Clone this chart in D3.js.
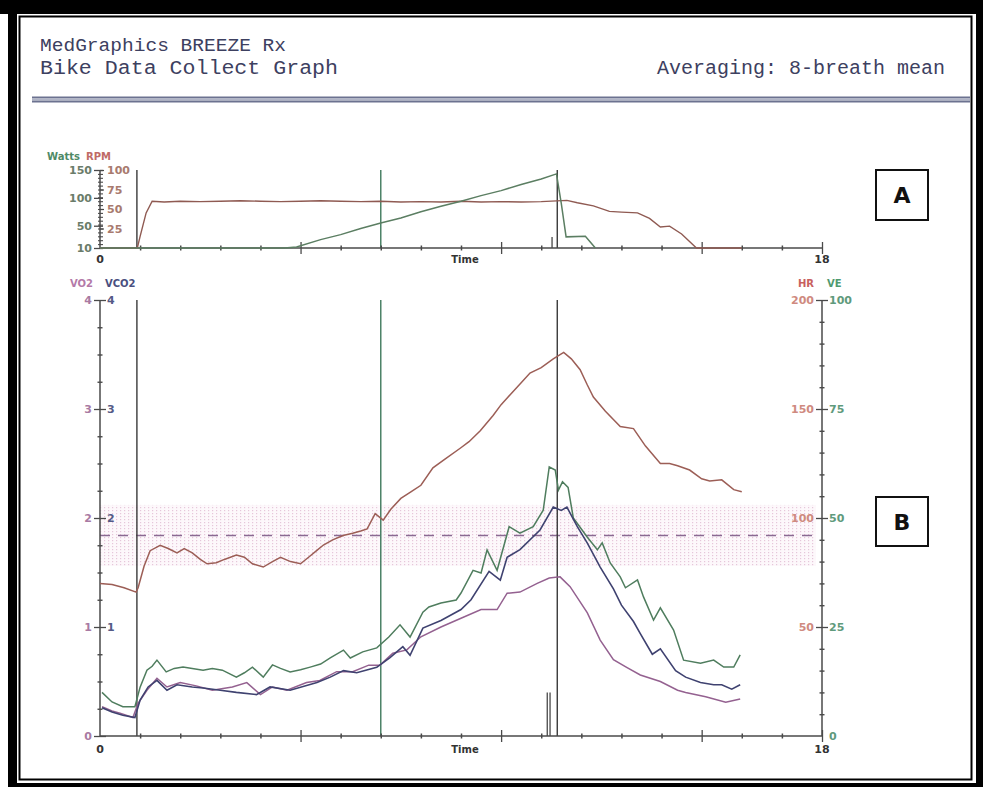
<!DOCTYPE html>
<html><head><meta charset="utf-8">
<script src="https://cdn.jsdelivr.net/npm/d3@7"></script>
<style>body{margin:0;background:#fff}svg{display:block}</style>
</head><body>
<svg id="c" width="983" height="787"></svg>
<script>
// ---------------- DATA ----------------
const titleLines = ["MedGraphics BREEZE Rx", "Bike Data Collect Graph"];
const averagingText = "Averaging: 8-breath mean";

// Panel A
const wattsTicks = [10, 50, 100, 150];
const rpmTicks = [25, 50, 75, 100];
const wattsData = [[0,10],[0.95,10],[4.6,10],[4.9,12],[5.5,25],[6.0,34],[6.5,45],[7.0,55],[7.5,64],[8.0,75],[8.5,85],[9.0,94],[9.5,104],[10.0,113],[10.5,124],[11.0,134],[11.38,143],[11.5,90],[11.62,30],[12.1,31],[12.35,10]];
const rpmData = [[0,0],[0.93,0],[1.0,15],[1.15,45],[1.3,60],[1.6,59],[2.0,60],[2.5,59.5],[3.0,60],[3.5,60.5],[4.0,60],[4.5,59.5],[5.0,60],[5.5,60.5],[6.0,60],[6.5,59.5],[7.0,60],[7.5,59],[8.0,59.5],[8.5,59],[9.0,60],[9.5,59],[10.0,59.5],[10.5,59],[11.0,59.5],[11.64,61],[11.9,58],[12.3,54],[12.7,47],[13.0,46],[13.4,45],[13.7,38],[13.97,27],[14.2,28],[14.5,18],[14.87,0],[16.0,0]];

// Panel B
const vo2Ticks = [0, 1, 2, 3, 4];
const vco2Ticks = [1, 2, 3, 4];
const hrTicks = [50, 100, 150, 200];
const veTicks = [0, 25, 50, 75, 100];
const targetHR = [78, 92, 106]; // low, mid (dashed), high
const blackEvents = [0.92, 11.4];
const greenEvents = [7.0];
const shortMarkers = [11.15, 11.22];

const hrData = [[0,70],[0.3,69.5],[0.6,68],[0.9,66],[0.95,68],[1.1,78],[1.25,85],[1.5,87.5],[1.7,86],[1.92,84],[2.1,86],[2.3,84],[2.5,81],[2.67,79],[2.9,79.5],[3.1,81],[3.4,83],[3.6,82],[3.8,79],[4.07,77.5],[4.3,80],[4.5,82],[4.75,80],[5.0,79],[5.2,82],[5.4,85],[5.57,87.6],[5.8,90],[6.06,92],[6.3,93],[6.5,94],[6.66,95],[6.86,102],[7.06,99],[7.25,104],[7.5,109],[7.75,112],[8.0,115],[8.3,123],[8.6,127],[8.98,132],[9.2,135],[9.48,140],[9.8,147],[10.0,152],[10.3,158],[10.5,162],[10.72,166.5],[11.0,169],[11.3,173],[11.56,176],[11.75,173],[11.97,168],[12.15,161],[12.3,155.5],[12.6,149],[12.97,142],[13.3,141],[13.6,133],[13.97,125],[14.2,125],[14.4,124],[14.7,122],[15.0,118],[15.2,117],[15.5,117.5],[15.8,113],[16.0,112]];

const veData = [[0.05,10],[0.3,7.8],[0.57,6.7],[0.87,6.7],[1.0,11.2],[1.17,15.1],[1.3,16],[1.42,17.4],[1.65,14.7],[1.85,15.5],[2.07,15.8],[2.3,15.5],[2.57,15.1],[2.8,15.5],[3.05,15.1],[3.4,13.5],[3.6,14.5],[3.8,15.8],[4.07,13.5],[4.3,16.3],[4.5,15.5],[4.74,14.7],[5.0,15.2],[5.24,15.8],[5.5,16.5],[5.74,17.9],[6.07,19.7],[6.24,17.9],[6.55,19.3],[6.9,20.2],[7.2,22.7],[7.48,25.5],[7.73,22.7],[8.05,28.4],[8.2,29.6],[8.5,30.5],[8.88,31.2],[9.0,32.8],[9.3,38],[9.5,37.4],[9.65,42.7],[9.9,38],[10.2,48],[10.47,46.5],[10.8,48],[11.05,51.8],[11.2,61.7],[11.35,61],[11.43,56.4],[11.53,58.3],[11.67,57],[11.8,50],[12.15,45.6],[12.4,42.7],[12.52,44.3],[12.72,39.7],[12.97,36.5],[13.1,34],[13.4,35.8],[13.55,31.9],[13.8,26.6],[13.97,29.4],[14.3,24.3],[14.55,17.4],[14.97,16.7],[15.3,17.4],[15.55,15.8],[15.8,15.8],[15.96,18.6]];

const vco2Data = [[0.05,0.26],[0.3,0.22],[0.57,0.19],[0.87,0.17],[1.0,0.33],[1.2,0.45],[1.42,0.51],[1.67,0.42],[1.92,0.47],[2.3,0.45],[2.57,0.44],[3.0,0.42],[3.4,0.40],[3.9,0.38],[4.24,0.45],[4.74,0.42],[5.41,0.49],[5.74,0.54],[6.07,0.6],[6.4,0.58],[6.9,0.63],[7.23,0.72],[7.55,0.82],[7.73,0.74],[8.05,0.99],[8.5,1.06],[9.0,1.16],[9.25,1.25],[9.7,1.51],[9.98,1.43],[10.15,1.64],[10.47,1.71],[10.97,1.89],[11.3,2.1],[11.5,2.07],[11.64,2.1],[11.9,1.92],[12.15,1.77],[12.47,1.55],[12.8,1.35],[13.0,1.2],[13.3,1.05],[13.47,0.94],[13.77,0.75],[13.97,0.8],[14.35,0.6],[14.6,0.54],[14.97,0.49],[15.3,0.47],[15.5,0.47],[15.75,0.43],[15.96,0.47]];

const vo2Data = [[0.05,0.27],[0.3,0.23],[0.5,0.21],[0.82,0.17],[0.95,0.3],[1.17,0.42],[1.42,0.53],[1.67,0.45],[2.0,0.49],[2.4,0.46],[2.8,0.42],[3.3,0.45],[3.66,0.49],[4.0,0.38],[4.3,0.45],[4.66,0.42],[5.15,0.49],[5.48,0.51],[5.9,0.59],[6.3,0.59],[6.7,0.65],[6.98,0.65],[7.3,0.76],[7.65,0.79],[8.0,0.91],[8.5,1.0],[9.0,1.08],[9.5,1.16],[9.9,1.16],[10.15,1.31],[10.47,1.32],[10.9,1.4],[11.2,1.45],[11.47,1.46],[11.72,1.37],[12.15,1.13],[12.47,0.88],[12.8,0.7],[13.13,0.63],[13.47,0.56],[13.97,0.5],[14.4,0.42],[14.6,0.4],[15.1,0.36],[15.6,0.31],[15.96,0.34]];

// ---------------- DRAW ----------------
const svg = d3.select("#c");
const C = {
  axis: "#4a4a4a", hr: "#9c5e56", ve: "#4f7d5e", vco2: "#3f4270", vo2: "#946190",
  watts: "#5b7e62", rpm: "#8f5a52", title: "#3d4060", green: "#3f7a5c"
};
const lblFont = "'DejaVu Sans', sans-serif";

// pattern for target band
const defs = svg.append("defs");
const pat = defs.append("pattern").attr("id","dots").attr("width",4).attr("height",3).attr("patternUnits","userSpaceOnUse");
pat.append("rect").attr("width",4).attr("height",3).attr("fill","#fdf8fb");
pat.append("rect").attr("width",1.2).attr("height",1.2).attr("fill","#e6c6da");

svg.append("rect").attr("width",983).attr("height",787).attr("fill","#fff");

// frame
svg.append("rect").attr("x",0).attr("y",0).attr("width",983).attr("height",14).attr("fill","#000");
svg.append("rect").attr("x",8).attr("y",0).attr("width",9).attr("height",787).attr("fill","#000");
svg.append("rect").attr("x",976).attr("y",0).attr("width",7).attr("height",787).attr("fill","#000");
svg.append("rect").attr("x",8).attr("y",783).attr("width",975).attr("height",4).attr("fill","#000");
svg.append("rect").attr("x",19.5).attr("y",16.5).attr("width",952).attr("height",763).attr("fill","none").attr("stroke","#000").attr("stroke-width",2);

// header
svg.append("text").attr("x",40).attr("y",51).attr("font-family","'Liberation Mono', monospace").attr("font-size",19).attr("fill",C.title).attr("textLength",246).attr("lengthAdjust","spacingAndGlyphs").text(titleLines[0]);
svg.append("text").attr("x",40).attr("y",74).attr("font-family","'Liberation Mono', monospace").attr("font-size",20).attr("fill",C.title).attr("textLength",298).attr("lengthAdjust","spacingAndGlyphs").text(titleLines[1]);
svg.append("text").attr("x",945).attr("y",74).attr("text-anchor","end").attr("font-family","'Liberation Mono', monospace").attr("font-size",20).attr("fill",C.title).text(averagingText);
svg.append("line").attr("x1",32).attr("x2",970).attr("y1",97.5).attr("y2",97.5).attr("stroke","#6c7290").attr("stroke-width",2);
svg.append("line").attr("x1",32).attr("x2",970).attr("y1",99.5).attr("y2",99.5).attr("stroke","#b0b4c6").attr("stroke-width",1.5);
svg.append("line").attr("x1",32).attr("x2",970).attr("y1",101.5).attr("y2",101.5).attr("stroke","#6c7290").attr("stroke-width",2);

// ---------- scales ----------
const xTop = d3.scaleLinear([0,18],[100,822]);
const yWatts = d3.scaleLinear([10,150],[248,170]);
const yRpm = d3.scaleLinear([0,100],[248,170]);
const xBot = d3.scaleLinear([0,18],[100,822]);
const yVO2 = d3.scaleLinear([0,4],[736,300]);
const yHR = d3.scaleLinear([0,200],[736,300]);
const yVE = d3.scaleLinear([0,100],[736,300]);

// x axis helper
function xAxis(x, yPos, labelY) {
  const minor = d3.range(1,18).filter(v => v % 5 !== 0);
  const gMin = svg.append("g").attr("transform",`translate(0,${yPos})`)
    .call(d3.axisBottom(x).tickValues(minor).tickSize(0).tickFormat(""));
  gMin.select(".domain").remove();
  gMin.selectAll(".tick line").attr("y1",-2.5).attr("y2",2.5).attr("stroke",C.axis).attr("stroke-width",1.5);
  const gMaj = svg.append("g").attr("transform",`translate(0,${yPos})`)
    .call(d3.axisBottom(x).tickValues([5,10,15,18]).tickSize(0).tickFormat(""));
  gMaj.select(".domain").remove();
  gMaj.selectAll(".tick line").attr("y1",-6).attr("y2",6).attr("stroke",C.axis).attr("stroke-width",1.3);
  svg.append("line").attr("x1",x(0)).attr("x2",x(18)).attr("y1",yPos).attr("y2",yPos).attr("stroke",C.axis).attr("stroke-width",1.5);
  const t = svg.append("g").attr("font-family",lblFont).attr("font-weight","bold").attr("font-size",11).attr("fill","#333");
  t.append("text").attr("x",x(0)).attr("y",labelY).attr("text-anchor","middle").text("0");
  t.append("text").attr("x",x(18)).attr("y",labelY).attr("text-anchor","middle").text("18");
  t.append("text").attr("x",x(9.1)).attr("y",labelY).attr("text-anchor","middle").attr("font-size",10).text("Time");
}

// ---------- PANEL A ----------
svg.append("g").selectAll("line").data(blackEvents).join("line")
  .attr("x1",d=>xTop(d)).attr("x2",d=>xTop(d)).attr("y1",yWatts(150)).attr("y2",yWatts(10))
  .attr("stroke","#3a3a3a").attr("stroke-width",1.4);
svg.append("g").selectAll("line").data(greenEvents).join("line")
  .attr("x1",d=>xTop(d)).attr("x2",d=>xTop(d)).attr("y1",yWatts(150)).attr("y2",yWatts(10))
  .attr("stroke",C.green).attr("stroke-width",1.4);
svg.append("line").attr("x1",xTop(shortMarkers[1]+0.05)).attr("x2",xTop(shortMarkers[1]+0.05)).attr("y1",yRpm(14)).attr("y2",yRpm(0)).attr("stroke","#3a3a3a").attr("stroke-width",1.2);

xAxis(xTop, 248, 263);

svg.append("line").attr("x1",100).attr("x2",100).attr("y1",yWatts(150)).attr("y2",yWatts(10)).attr("stroke",C.axis).attr("stroke-width",1.5);
{
  const g = svg.append("g").attr("transform","translate(100,0)")
    .call(d3.axisRight(yRpm).tickValues(d3.range(5,100,5)).tickSize(3).tickFormat(""));
  g.select(".domain").remove();
  g.selectAll(".tick line").attr("x1",-2).attr("stroke",C.axis).attr("stroke-width",1.1);
  const g2 = svg.append("g").attr("transform","translate(100,0)")
    .call(d3.axisLeft(yWatts).tickValues(wattsTicks).tickSize(6).tickPadding(2));
  g2.select(".domain").remove();
  g2.selectAll(".tick line").attr("x2",-6).attr("x1",3).attr("stroke",C.axis).attr("stroke-width",1.3);
  g2.selectAll("text").attr("font-family",lblFont).attr("font-weight","bold").attr("font-size",11).attr("fill","#6a7c6a");
  const g3 = svg.append("g").attr("transform","translate(100,0)")
    .call(d3.axisRight(yRpm).tickValues(rpmTicks).tickSize(4).tickPadding(3));
  g3.select(".domain").remove();
  g3.selectAll(".tick line").attr("stroke",C.axis).attr("stroke-width",1.2);
  g3.selectAll("text").attr("font-family",lblFont).attr("font-weight","bold").attr("font-size",11).attr("fill","#a87a6e");
  svg.append("text").attr("x",47).attr("y",160).attr("font-family",lblFont).attr("font-weight","bold").attr("font-size",10).attr("fill","#4f8a66").text("Watts");
  svg.append("text").attr("x",86).attr("y",160).attr("font-family",lblFont).attr("font-weight","bold").attr("font-size",10).attr("fill","#c06a66").text("RPM");
}

svg.append("path").datum(rpmData).attr("fill","none").attr("stroke",C.rpm).attr("stroke-width",1.4)
  .attr("d", d3.line().x(d=>xTop(d[0])).y(d=>yRpm(d[1])));
svg.append("path").datum(wattsData).attr("fill","none").attr("stroke",C.watts).attr("stroke-width",1.5)
  .attr("d", d3.line().x(d=>xTop(d[0])).y(d=>yWatts(d[1])));

// ---------- PANEL B ----------
svg.append("rect").attr("x",xBot(0)).attr("width",xBot(17.85)-xBot(0))
  .attr("y",yHR(targetHR[2])).attr("height",yHR(targetHR[0])-yHR(targetHR[2])).attr("fill","url(#dots)");
svg.append("line").attr("x1",xBot(0)).attr("x2",xBot(17.85)).attr("y1",yHR(targetHR[1])).attr("y2",yHR(targetHR[1]))
  .attr("stroke","#8a6a92").attr("stroke-width",1.4).attr("stroke-dasharray","10,8");

svg.append("g").selectAll("line").data(blackEvents).join("line")
  .attr("x1",d=>xBot(d)).attr("x2",d=>xBot(d)).attr("y1",yVO2(4)).attr("y2",yVO2(0))
  .attr("stroke","#3a3a3a").attr("stroke-width",1.4);
svg.append("g").selectAll("line").data(greenEvents).join("line")
  .attr("x1",d=>xBot(d)).attr("x2",d=>xBot(d)).attr("y1",yVO2(4)).attr("y2",yVO2(0))
  .attr("stroke",C.green).attr("stroke-width",1.4);
svg.append("g").selectAll("line").data(shortMarkers).join("line")
  .attr("x1",d=>xBot(d)).attr("x2",d=>xBot(d)).attr("y1",yVO2(0.4)).attr("y2",yVO2(0))
  .attr("stroke","#3a3a3a").attr("stroke-width",1.2);

xAxis(xBot, 736, 753);

svg.append("line").attr("x1",100).attr("x2",100).attr("y1",yVO2(4)).attr("y2",yVO2(0)).attr("stroke",C.axis).attr("stroke-width",1.5);
{
  const minor = d3.range(0.25,4,0.25).filter(v => Math.abs(v-Math.round(v))>0.01);
  const gm = svg.append("g").attr("transform","translate(100,0)")
    .call(d3.axisRight(yVO2).tickValues(minor).tickSize(2.5).tickFormat(""));
  gm.select(".domain").remove();
  gm.selectAll(".tick line").attr("x1",-2.5).attr("stroke",C.axis).attr("stroke-width",1.4);
  const gl = svg.append("g").attr("transform","translate(100,0)")
    .call(d3.axisLeft(yVO2).tickValues(vo2Ticks).tickSize(6).tickPadding(2).tickFormat(d3.format("d")));
  gl.select(".domain").remove();
  gl.selectAll(".tick line").attr("x1",6).attr("stroke",C.axis).attr("stroke-width",1.3);
  gl.selectAll("text").attr("font-family",lblFont).attr("font-weight","bold").attr("font-size",11).attr("fill","#a97aa3");
  const gr = svg.append("g").attr("transform","translate(100,0)")
    .call(d3.axisRight(yVO2).tickValues(vco2Ticks).tickSize(6).tickPadding(1).tickFormat(d3.format("d")));
  gr.select(".domain").remove();
  gr.selectAll(".tick line").remove();
  gr.selectAll("text").attr("font-family",lblFont).attr("font-weight","bold").attr("font-size",11).attr("fill","#555a86");
  svg.append("text").attr("x",70).attr("y",287).attr("font-family",lblFont).attr("font-weight","bold").attr("font-size",10).attr("fill","#b47aa8").text("VO2");
  svg.append("text").attr("x",105).attr("y",287).attr("font-family",lblFont).attr("font-weight","bold").attr("font-size",10).attr("fill","#4a4f80").text("VCO2");
}

svg.append("line").attr("x1",822).attr("x2",822).attr("y1",yHR(200)).attr("y2",yHR(0)).attr("stroke",C.axis).attr("stroke-width",1.5);
{
  const minor = d3.range(10,200,10).filter(v => v % 50 !== 0);
  const gm = svg.append("g").attr("transform","translate(822,0)")
    .call(d3.axisRight(yHR).tickValues(minor).tickSize(2.5).tickFormat(""));
  gm.select(".domain").remove();
  gm.selectAll(".tick line").attr("x1",-2.5).attr("stroke",C.axis).attr("stroke-width",1.4);
  const gl = svg.append("g").attr("transform","translate(822,0)")
    .call(d3.axisLeft(yHR).tickValues(hrTicks).tickSize(6).tickPadding(2));
  gl.select(".domain").remove();
  gl.selectAll(".tick line").attr("x1",6).attr("stroke",C.axis).attr("stroke-width",1.3);
  gl.selectAll("text").attr("font-family",lblFont).attr("font-weight","bold").attr("font-size",11).attr("fill","#cf8a80");
  const gr = svg.append("g").attr("transform","translate(822,0)")
    .call(d3.axisRight(yVE).tickValues(veTicks).tickSize(6).tickPadding(1));
  gr.select(".domain").remove();
  gr.selectAll(".tick line").remove();
  gr.selectAll("text").attr("font-family",lblFont).attr("font-weight","bold").attr("font-size",11).attr("fill","#5f9a7c");
  svg.append("text").attr("x",798).attr("y",287).attr("font-family",lblFont).attr("font-weight","bold").attr("font-size",10).attr("fill","#c8605e").text("HR");
  svg.append("text").attr("x",827).attr("y",287).attr("font-family",lblFont).attr("font-weight","bold").attr("font-size",10).attr("fill","#4f9a70").text("VE");
}

const lineB = (y) => d3.line().x(d=>xBot(d[0])).y(d=>y(d[1]));
svg.append("path").datum(hrData).attr("fill","none").attr("stroke",C.hr).attr("stroke-width",1.5).attr("d",lineB(yHR));
svg.append("path").datum(vo2Data).attr("fill","none").attr("stroke",C.vo2).attr("stroke-width",1.5).attr("d",lineB(yVO2));
svg.append("path").datum(veData).attr("fill","none").attr("stroke",C.ve).attr("stroke-width",1.5).attr("d",lineB(yVE));
svg.append("path").datum(vco2Data).attr("fill","none").attr("stroke",C.vco2).attr("stroke-width",1.6).attr("d",lineB(yVO2));

function box(x, y, w, h, letter) {
  svg.append("rect").attr("x",x).attr("y",y).attr("width",w).attr("height",h).attr("fill","#fff").attr("stroke","#111").attr("stroke-width",2);
  svg.append("text").attr("x",x+w/2).attr("y",y+h/2+8).attr("text-anchor","middle")
    .attr("font-family","'DejaVu Sans', sans-serif").attr("font-weight","bold").attr("font-size",22).attr("fill","#111").text(letter);
}
box(876,170,52,50,"A");
box(876,497,52,49,"B");
</script>
</body></html>
